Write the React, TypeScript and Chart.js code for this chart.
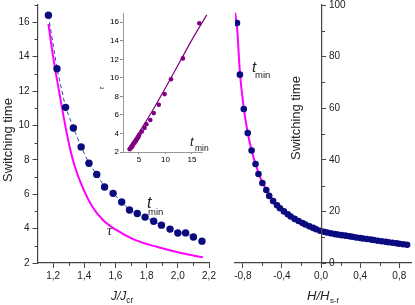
import React, { useEffect, useRef } from 'react';
import { Chart, registerables } from 'chart.js';

Chart.register(...registerables);
Chart.defaults.font.family = '"Liberation Sans", Arial, sans-serif';

// ---------- data: left panel (switching time vs J/Jcr) ----------
const jRatio = [1.17, 1.225, 1.28, 1.33, 1.38, 1.43, 1.48, 1.53, 1.585, 1.64, 1.69, 1.74, 1.79, 1.845, 1.895, 1.95, 2.0, 2.05, 2.1, 2.155];
const tMinLeft = [16.4, 13.3, 11.05, 9.85, 8.75, 7.8, 7.15, 6.42, 6.05, 5.55, 5.08, 4.88, 4.67, 4.43, 4.2, 3.97, 3.74, 3.75, 3.51, 3.27];
const jTau = [1.17, 1.2, 1.24, 1.28, 1.31, 1.34, 1.38, 1.45, 1.52, 1.6, 1.72, 1.87, 2.02, 2.16];
const tauLeft = [15.9, 14.0, 11.9, 9.9, 8.6, 7.6, 6.6, 5.3, 4.5, 3.95, 3.36, 2.93, 2.58, 2.33];

// ---------- data: inset (tau vs t_min) ----------
const tauInset = [15.9, 12.1, 9.85, 8.25, 7.1, 6.2, 5.45, 5.0, 4.6, 4.2, 3.85, 3.6, 3.4, 3.2, 3.0, 2.85, 2.65, 2.6, 2.45, 2.3];
const fitT = [2.9, 5, 7.5, 10, 12.5, 15, 17.8];
const fitTau = [2.3, 4.1, 6.4, 8.9, 11.5, 14.1, 16.8];
const insetXTicks = [5, 10, 15];
const insetYTicks = [2, 4, 6, 8, 10, 12, 14, 16];

// ---------- data: right panel (switching time vs H/Hs-f) ----------
const hField = [-0.86, -0.83, -0.79, -0.75, -0.71, -0.67, -0.64, -0.6, -0.56, -0.53, -0.49, -0.45, -0.42, -0.38, -0.34, -0.31, -0.27, -0.23, -0.19, -0.16, -0.12, -0.08, -0.05, -0.01, 0.03, 0.06, 0.1, 0.14, 0.17, 0.21, 0.25, 0.29, 0.32, 0.36, 0.4, 0.43, 0.47, 0.51, 0.54, 0.58, 0.62, 0.66, 0.69, 0.73, 0.77, 0.8, 0.84, 0.88];
const tMinRight = [93, 73, 59.7, 50.4, 43.6, 38.4, 34.5, 31.0, 28.3, 26.0, 24.0, 22.4, 21.2, 20.0, 18.9, 18.0, 17.1, 16.3, 15.5, 14.9, 14.2, 13.6, 13.1, 12.5, 12.1, 11.8, 11.5, 11.2, 11.0, 10.8, 10.6, 10.35, 10.15, 9.9, 9.7, 9.5, 9.3, 9.1, 8.9, 8.65, 8.45, 8.25, 8.05, 7.85, 7.65, 7.45, 7.25, 7.05];
const hTau = [-0.88, -0.86, -0.83, -0.79, -0.75, -0.71, -0.67, -0.63, -0.59, -0.55, -0.5, -0.45];
const tauRight = [97, 92, 74, 60, 50.5, 43.6, 38.4, 34, 30.5, 27.8, 24.8, 22.4];

const AXIS = '#444';
const TEXT = '#222';
const NAVY = '#0b0b80';
const MAGENTA = '#ff00ff';
const PURPLE = '#800080';
const SANS = '"Liberation Sans", Arial, sans-serif';

const fmtComma = (v: number) => {
  const n = Math.abs(v) < 1e-9 ? 0 : v;
  return n.toFixed(1).replace('.', ',');
};

const fixedBox = (size: number, vertical: boolean) => (scale: any) => {
  if (vertical) scale.width = size;
  else scale.height = size;
  scale.paddingTop = 0;
  scale.paddingBottom = 0;
  scale.paddingLeft = 0;
  scale.paddingRight = 0;
};

type Label = {
  text: string; x: number; y: number; font: string; color?: string;
  align?: CanvasTextAlign; angle?: number;
  sub?: string; subFont?: string; subDx?: number; subDy?: number;
};
const labelsPlugin = (id: string, labels: Label[]) => ({
  id,
  afterDraw(chart: any) {
    const ctx = chart.ctx as CanvasRenderingContext2D;
    labels.forEach((l) => {
      ctx.save();
      ctx.translate(l.x, l.y);
      if (l.angle) ctx.rotate(l.angle);
      ctx.font = l.font;
      ctx.fillStyle = l.color ?? TEXT;
      ctx.textAlign = l.align ?? 'left';
      ctx.textBaseline = 'alphabetic';
      ctx.fillText(l.text, 0, 0);
      if (l.sub) {
        const w = ctx.measureText(l.text).width;
        ctx.font = l.subFont ?? `9px ${SANS}`;
        ctx.textAlign = 'left';
        ctx.fillText(l.sub, w + (l.subDx ?? 0), l.subDy ?? 3);
      }
      ctx.restore();
    });
  },
});

type Minor = { scale: string; from: number; to: number; step: number; len: number; side: 'bottom' | 'left' | 'right'; color: string };
const minorPlugin = (id: string, specs: Minor[]) => ({
  id,
  afterDraw(chart: any) {
    const ctx = chart.ctx as CanvasRenderingContext2D;
    specs.forEach((s) => {
      const sc = chart.scales[s.scale];
      ctx.save();
      ctx.strokeStyle = s.color;
      ctx.lineWidth = 1;
      ctx.beginPath();
      for (let v = s.from; v <= s.to + 1e-9; v += s.step) {
        const p = Math.round(sc.getPixelForValue(v)) + 0.5;
        if (s.side === 'bottom') {
          const y0 = chart.chartArea.bottom;
          ctx.moveTo(p, y0);
          ctx.lineTo(p, y0 + s.len);
        } else if (s.side === 'left') {
          const x0 = chart.chartArea.left;
          ctx.moveTo(x0, p);
          ctx.lineTo(x0 - s.len, p);
        } else {
          const x0 = sc.left;
          ctx.moveTo(x0, p);
          ctx.lineTo(x0 + s.len, p);
        }
      }
      ctx.stroke();
      ctx.restore();
    });
  },
});

const baseOpts = {
  responsive: false,
  animation: false as const,
  devicePixelRatio: 1,
  events: [] as any[],
  plugins: { legend: { display: false }, tooltip: { enabled: false } },
};

function leftConfig(): any {
  return {
    type: 'scatter',
    data: {
      datasets: [
        {
          data: jRatio.map((x, i) => ({ x, y: tMinLeft[i] })),
          showLine: true,
          borderColor: '#2d45a8',
          borderWidth: 1,
          borderDash: [4, 3],
          pointRadius: 3.7,
          pointBackgroundColor: NAVY,
          pointBorderWidth: 0,
        },
        {
          data: jTau.map((x, i) => ({ x, y: tauLeft[i] })),
          showLine: true,
          borderColor: MAGENTA,
          borderWidth: 2,
          pointRadius: 0,
          cubicInterpolationMode: 'monotone',
        },
      ],
    },
    options: {
      ...baseOpts,
      layout: { padding: { left: 0, top: 5, right: 21, bottom: 0 } },
      scales: {
        x: {
          type: 'linear', min: 1.1, max: 2.2,
          afterFit: fixedBox(42, false),
          grid: { drawOnChartArea: false, tickLength: 5, tickColor: AXIS },
          border: { color: AXIS, width: 1.2 },
          ticks: { stepSize: 0.2, includeBounds: false, padding: 2, maxRotation: 0, autoSkip: false, color: TEXT, font: { size: 10 }, callback: (v: number) => fmtComma(v) },
        },
        y: {
          type: 'linear', min: 2, max: 17,
          afterFit: fixedBox(37.5, true),
          grid: { drawOnChartArea: false, tickLength: 5, tickColor: AXIS },
          border: { color: AXIS, width: 1.2 },
          ticks: { stepSize: 2, includeBounds: false, autoSkip: false, padding: 3, color: TEXT, font: { size: 10 }, callback: (v: number) => String(Math.round(v)) },
        },
      },
    },
    plugins: [
      minorPlugin('minorL', [
        { scale: 'x', from: 1.3, to: 2.1, step: 0.2, len: 3, side: 'bottom', color: AXIS },
        { scale: 'y', from: 3, to: 17, step: 2, len: 3, side: 'left', color: AXIS },
      ]),
      labelsPlugin('labelsL', [
        { text: 'Switching time', x: 11.5, y: 140, font: `13px ${SANS}`, align: 'center', angle: -Math.PI / 2 },
        { text: 'J/J', x: 111, y: 300, font: `italic 12px ${SANS}`, sub: 'cr', subFont: `8.5px ${SANS}`, subDx: 0, subDy: 3 },
        { text: 't', x: 147, y: 208, font: `italic 16px ${SANS}` },
        { text: 'min', x: 148, y: 215, font: `9.5px ${SANS}` },
        { text: 'τ', x: 107, y: 235, font: 'italic 14px "Liberation Serif", serif' },
      ]),
    ],
  };
}

function insetConfig(): any {
  return {
    type: 'scatter',
    data: {
      datasets: [
        {
          data: tMinLeft.map((x, i) => ({ x, y: tauInset[i] })),
          showLine: false,
          pointRadius: 2.3,
          pointBackgroundColor: PURPLE,
          pointBorderWidth: 0,
        },
        {
          data: fitT.map((x, i) => ({ x, y: fitTau[i] })),
          showLine: true,
          borderColor: PURPLE,
          borderWidth: 1.2,
          pointRadius: 0,
          cubicInterpolationMode: 'monotone',
          clip: false,
        },
      ],
    },
    options: {
      ...baseOpts,
      layout: { padding: { left: 30, top: 13, right: 12.5, bottom: 0 } },
      scales: {
        x: {
          type: 'linear', min: 2, max: 17,
          afterFit: fixedBox(18, false),
          afterBuildTicks: (scale: any) => { scale.ticks = insetXTicks.map((value) => ({ value })); },
          grid: { drawOnChartArea: false, tickLength: 2, tickColor: '#888' },
          border: { color: '#999', width: 1 },
          ticks: { padding: 1, maxRotation: 0, autoSkip: false, color: '#000', font: { size: 8 } },
        },
        y: {
          type: 'linear', position: 'left', min: 2, max: 17,
          afterFit: fixedBox(33, true),
          afterBuildTicks: (scale: any) => { scale.ticks = insetYTicks.map((value) => ({ value })); },
          grid: { drawOnChartArea: false, tickLength: 3, tickColor: '#888' },
          border: { color: '#999', width: 1 },
          ticks: { autoSkip: false, padding: 1, color: '#000', font: { size: 8 }, callback: (v: number) => String(Math.round(v)) },
        },
      },
    },
    plugins: [
      labelsPlugin('labelsI', [
        { text: 'τ', x: 44, y: 88, font: 'italic 8px "Liberation Serif", serif', align: 'center', angle: -Math.PI / 2 },
        { text: 't', x: 130, y: 146, font: `italic 13px ${SANS}` },
        { text: 'min', x: 135, y: 151, font: `8.5px ${SANS}` },
      ]),
    ],
  };
}

function rightConfig(): any {
  return {
    type: 'scatter',
    data: {
      datasets: [
        {
          data: hField.map((x, i) => ({ x, y: tMinRight[i] })),
          showLine: false,
          pointRadius: 3.3,
          pointBackgroundColor: NAVY,
          pointBorderWidth: 0,
        },
        {
          data: hTau.map((x, i) => ({ x, y: tauRight[i] })),
          showLine: true,
          borderColor: MAGENTA,
          borderWidth: 2,
          pointRadius: 0,
          cubicInterpolationMode: 'monotone',
        },
      ],
    },
    options: {
      ...baseOpts,
      layout: { padding: { left: 20, top: 5, right: 2, bottom: 0 } },
      scales: {
        x: {
          type: 'linear', min: -0.88, max: 0.92,
          afterFit: fixedBox(42, false),
          grid: { drawOnChartArea: false, tickLength: 5, tickColor: AXIS },
          border: { color: AXIS, width: 1.2 },
          ticks: { stepSize: 0.4, includeBounds: false, padding: 2, maxRotation: 0, autoSkip: false, color: TEXT, font: { size: 10 }, callback: (v: number) => fmtComma(v) },
        },
        y: { type: 'linear', min: 0, max: 100, display: false },
      },
    },
    plugins: [
      minorPlugin('minorR', [
        { scale: 'x', from: -0.6, to: 0.6, step: 0.4, len: 3, side: 'bottom', color: AXIS },
      ]),
      labelsPlugin('labelsR', [
        { text: 't', x: 37, y: 72, font: `italic 15px ${SANS}` },
        { text: 'min', x: 40, y: 78, font: `9.5px ${SANS}` },
        { text: 'H/H', x: 92, y: 300, font: `italic 13px ${SANS}`, sub: 's-f', subFont: `8px ${SANS}`, subDx: 0.5, subDy: 3 },
      ]),
    ],
  };
}

function rightAxisConfig(): any {
  return {
    type: 'scatter',
    data: { datasets: [] },
    options: {
      ...baseOpts,
      layout: { padding: { left: 0, top: 5, right: 0, bottom: 42 } },
      scales: {
        x: { type: 'linear', min: 0, max: 1, display: false },
        y: {
          type: 'linear', position: 'right', min: 0, max: 100,
          afterFit: fixedBox(93, true),
          grid: { drawOnChartArea: false, tickLength: 4, tickColor: AXIS },
          border: { color: AXIS, width: 1.2 },
          ticks: { stepSize: 20, includeBounds: false, autoSkip: false, padding: 3, color: TEXT, font: { size: 10 } },
        },
      },
    },
    plugins: [
      minorPlugin('minorRY', [
        { scale: 'y', from: 10, to: 90, step: 20, len: 3, side: 'right', color: AXIS },
      ]),
      labelsPlugin('labelsRY', [
        { text: 'Switching time', x: 84.5, y: 118, font: `13px ${SANS}`, align: 'center', angle: -Math.PI / 2 },
      ]),
    ],
  };
}

export default function App() {
  const leftRef = useRef<HTMLCanvasElement>(null);
  const rightRef = useRef<HTMLCanvasElement>(null);
  const rightAxisRef = useRef<HTMLCanvasElement>(null);
  const insetRef = useRef<HTMLCanvasElement>(null);

  useEffect(() => {
    const charts: Chart[] = [];
    if (leftRef.current) charts.push(new Chart(leftRef.current, leftConfig()));
    if (rightRef.current) charts.push(new Chart(rightRef.current, rightConfig()));
    if (rightAxisRef.current) charts.push(new Chart(rightAxisRef.current, rightAxisConfig()));
    if (insetRef.current) charts.push(new Chart(insetRef.current, insetConfig()));
    return () => charts.forEach((c) => c.destroy());
  }, []);

  const abs = (left: number, top: number, w: number, h: number, z: number): React.CSSProperties => ({
    position: 'absolute', left, top, width: w, height: h, display: 'block', zIndex: z,
  });

  return (
    <div style={{ position: 'absolute', left: 0, top: 0, width: 415, height: 305, background: '#fff', overflow: 'hidden' }}>
      <canvas ref={leftRef} width={230} height={305} style={abs(0, 0, 230, 305, 1)} />
      <canvas ref={rightRef} width={200} height={305} style={abs(215, 0, 200, 305, 1)} />
      <canvas ref={rightAxisRef} width={200} height={305} style={abs(215, 0, 200, 305, 2)} />
      <canvas ref={insetRef} width={155} height={170} style={abs(60, 0, 155, 170, 5)} />
    </div>
  );
}
